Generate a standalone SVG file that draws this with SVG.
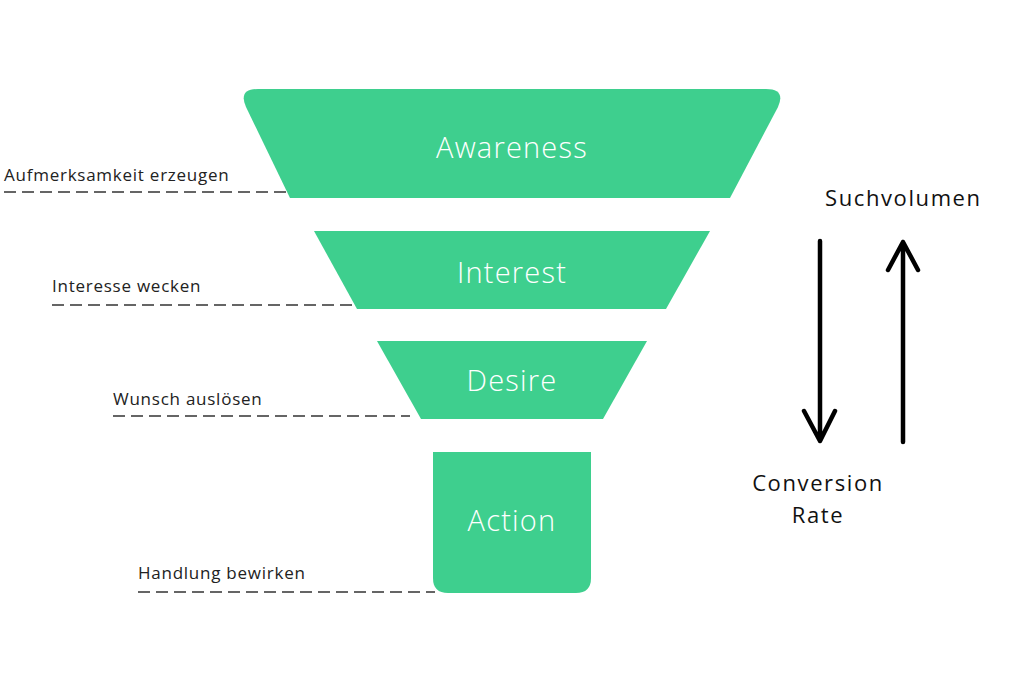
<svg xmlns="http://www.w3.org/2000/svg" width="1024" height="683" viewBox="0 0 1024 683">
<style>
.stage{fill:#3ecf8e}
.stxt{font-family:"Open Sans","Noto Sans",sans-serif;font-weight:300;font-size:29px;letter-spacing:1.2px;fill:#ffffff;text-anchor:middle}
.lbl{font-family:"Open Sans","Noto Sans",sans-serif;font-size:17px;letter-spacing:0.75px;fill:#222222}
.rlbl{font-family:"Open Sans","Noto Sans",sans-serif;font-size:22px;letter-spacing:1.6px;fill:#111111}
.dash{stroke:#333333;stroke-width:1.4;stroke-dasharray:12 6;fill:none}
.arr{stroke:#000000;stroke-width:4.5;stroke-linecap:round;stroke-linejoin:round;fill:none}
</style>
<rect width="1024" height="683" fill="#ffffff"/>
<g id="awareness">
<path class="stage" d="M258,89 H766 Q786,89 778,107 L730,198 H290 L246,107 Q238,89 258,89 Z"/>
<text class="stxt" x="512" y="158">Awareness</text>
</g>
<g id="interest">
<path class="stage" d="M314,231 H710 L666,309 H357 Z"/>
<text class="stxt" x="512" y="283">Interest</text>
</g>
<g id="desire">
<path class="stage" d="M377,341 H647 L603,419 H421 Z"/>
<text class="stxt" x="512" y="391">Desire</text>
</g>
<g id="action">
<path class="stage" d="M433,452 H591 V578 Q591,593 576,593 H448 Q433,593 433,578 Z"/>
<text class="stxt" x="512" y="531">Action</text>
</g>
<g id="labels">
<text class="lbl" x="4" y="181">Aufmerksamkeit erzeugen</text>
<text class="lbl" x="52" y="292">Interesse wecken</text>
<text class="lbl" x="113" y="405">Wunsch auslösen</text>
<text class="lbl" x="138" y="579">Handlung bewirken</text>
<text class="rlbl" x="825" y="206">Suchvolumen</text>
<text class="rlbl" x="818" y="491" text-anchor="middle">Conversion</text>
<text class="rlbl" x="818" y="523" text-anchor="middle">Rate</text>
</g>
<g id="connectors">
<line class="dash" x1="4" y1="192" x2="288" y2="192"/>
<line class="dash" x1="52" y1="305" x2="355" y2="305"/>
<line class="dash" x1="113" y1="416" x2="410" y2="416"/>
<line class="dash" x1="138" y1="592" x2="435" y2="592"/>
<path class="arr" d="M820,241 V441 M804,411 L820,441 L835,411"/>
<path class="arr" d="M903,442 V242 M888,270 L903,242 L918,270"/>
</g>
</svg>
